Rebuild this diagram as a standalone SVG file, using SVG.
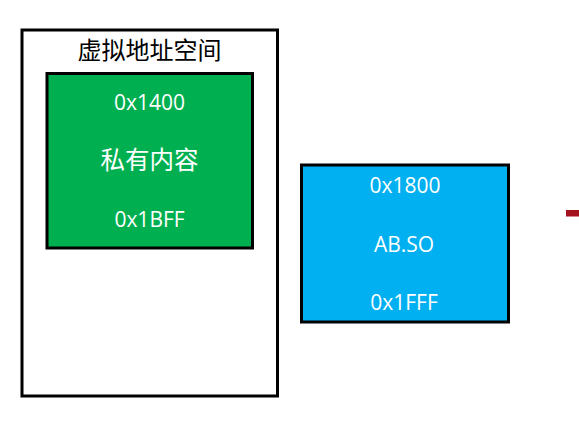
<svg xmlns="http://www.w3.org/2000/svg" width="579" height="423" viewBox="0 0 579 423">
<style>
.box{stroke:#000;stroke-width:3}
.t{font-family:"Open Sans","Liberation Sans","Noto Sans CJK SC",sans-serif;fill:#fff;text-anchor:middle}
.num{font-size:21px}
.cjk{font-family:"Noto Sans CJK SC","Open Sans",sans-serif}
</style>
<rect width="579" height="423" fill="#fff"/>
<g id="vspace">
<rect class="box" x="22" y="30" width="255.5" height="366" fill="#fff"/>
<text class="cjk" x="149.5" y="59" font-size="24" text-anchor="middle" fill="#000">虚拟地址空间</text>
</g>
<g id="private">
<rect class="box" x="47" y="73.5" width="205.5" height="174.5" fill="#00B050" stroke-width="3.5"/>
<text class="t num" x="149.5" y="110">0x1400</text>
<text class="t cjk" x="149.5" y="169" font-size="24.5">私有内容</text>
<text class="t num" x="149.5" y="227">0x1BFF</text>
</g>
<g id="abso">
<rect class="box" x="301.5" y="165" width="207" height="157" fill="#00B0F0"/>
<text class="t num" x="405" y="193">0x1800</text>
<text class="t num" x="404" y="252">AB.SO</text>
<text class="t num" x="404" y="310">0x1FFF</text>
</g>
<g id="connectors">
<rect x="566" y="210" width="13" height="6.5" fill="#A3121E"/>
</g>
</svg>
